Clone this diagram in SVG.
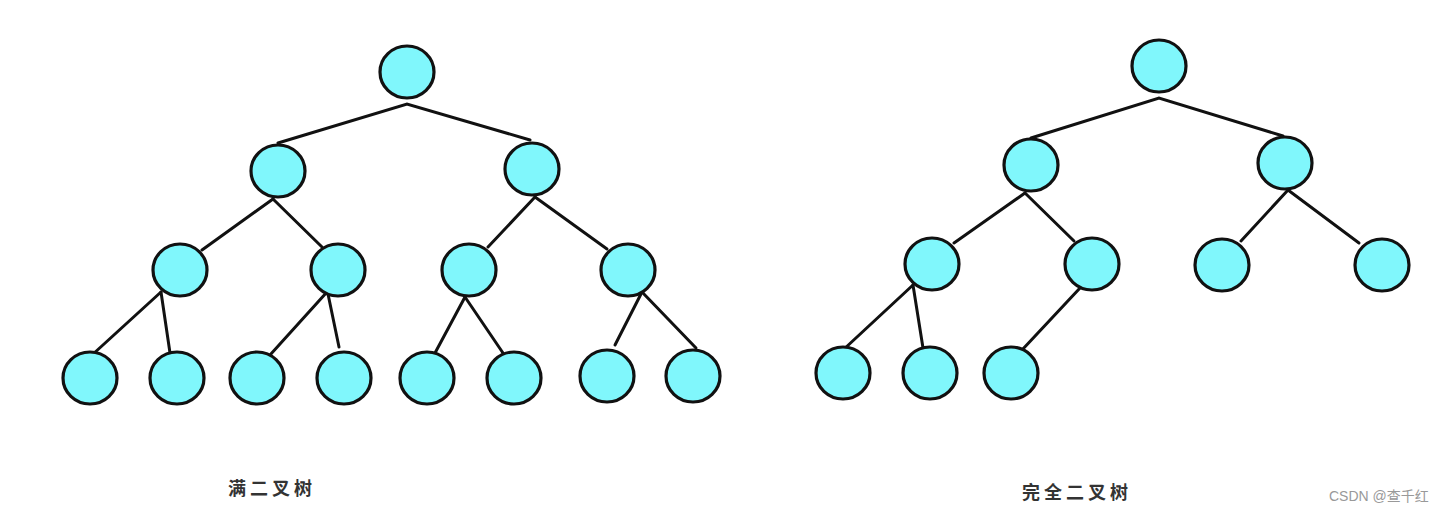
<svg xmlns="http://www.w3.org/2000/svg" width="1444" height="513" viewBox="0 0 1444 513">
<style>
.n{fill:#80f7fc;stroke:#111;stroke-width:3.2}
.e{stroke:#111;stroke-width:3;stroke-linecap:round;fill:none}
.lbl{font-family:"Noto Sans CJK SC",sans-serif;font-size:18px;font-weight:bold;fill:#333;letter-spacing:4px}
.wm{font-family:"Liberation Sans","Noto Sans CJK SC",sans-serif;font-size:14px;fill:#999}
</style>
<rect width="1444" height="513" fill="#fff"/>
<g id="connectors">
<polyline class="e" points="278,143 407,104 530,140"/>
<line class="e" x1="273" y1="199" x2="202" y2="250"/>
<line class="e" x1="273" y1="199" x2="322" y2="247"/>
<line class="e" x1="535" y1="197" x2="488" y2="247"/>
<line class="e" x1="535" y1="197" x2="607" y2="249"/>
<line class="e" x1="161" y1="292" x2="92" y2="355"/>
<line class="e" x1="161" y1="292" x2="170" y2="353"/>
<line class="e" x1="327" y1="292" x2="270" y2="355"/>
<line class="e" x1="328" y1="294" x2="339" y2="347"/>
<line class="e" x1="465" y1="297" x2="435" y2="353"/>
<line class="e" x1="465" y1="297" x2="503" y2="353"/>
<line class="e" x1="642" y1="292" x2="615" y2="345"/>
<line class="e" x1="642" y1="292" x2="696" y2="348"/>
<polyline class="e" points="1031,138 1159,98 1283,136"/>
<line class="e" x1="1025" y1="193" x2="954" y2="243"/>
<line class="e" x1="1025" y1="193" x2="1074" y2="241"/>
<line class="e" x1="1288" y1="190" x2="1241" y2="241"/>
<line class="e" x1="1288" y1="190" x2="1359" y2="243"/>
<line class="e" x1="913" y1="285" x2="843" y2="350"/>
<line class="e" x1="913" y1="285" x2="923" y2="348"/>
<line class="e" x1="1080" y1="288" x2="1022" y2="350"/>
</g>
<g id="full-tree">
<g id="f1"><ellipse class="n" cx="407" cy="72" rx="27" ry="26"/></g>
<g id="f2"><ellipse class="n" cx="278" cy="171" rx="27" ry="26"/></g>
<g id="f3"><ellipse class="n" cx="532" cy="169" rx="27" ry="26"/></g>
<g id="f4"><ellipse class="n" cx="180" cy="270" rx="27" ry="26"/></g>
<g id="f5"><ellipse class="n" cx="338" cy="270" rx="27" ry="26"/></g>
<g id="f6"><ellipse class="n" cx="469" cy="270" rx="27" ry="26"/></g>
<g id="f7"><ellipse class="n" cx="628" cy="270" rx="27" ry="26"/></g>
<g id="f8"><ellipse class="n" cx="90" cy="378" rx="27" ry="26"/></g>
<g id="f9"><ellipse class="n" cx="177" cy="378" rx="27" ry="26"/></g>
<g id="f10"><ellipse class="n" cx="257" cy="378" rx="27" ry="26"/></g>
<g id="f11"><ellipse class="n" cx="344" cy="378" rx="27" ry="26"/></g>
<g id="f12"><ellipse class="n" cx="427" cy="378" rx="27" ry="26"/></g>
<g id="f13"><ellipse class="n" cx="514" cy="378" rx="27" ry="26"/></g>
<g id="f14"><ellipse class="n" cx="607" cy="376" rx="27" ry="26"/></g>
<g id="f15"><ellipse class="n" cx="693" cy="376" rx="27" ry="26"/></g>
</g>
<g id="complete-tree">
<g id="c1"><ellipse class="n" cx="1159" cy="66" rx="27" ry="26"/></g>
<g id="c2"><ellipse class="n" cx="1031" cy="165" rx="27" ry="26"/></g>
<g id="c3"><ellipse class="n" cx="1285" cy="163" rx="27" ry="26"/></g>
<g id="c4"><ellipse class="n" cx="932" cy="264" rx="27" ry="26"/></g>
<g id="c5"><ellipse class="n" cx="1092" cy="264" rx="27" ry="26"/></g>
<g id="c6"><ellipse class="n" cx="1222" cy="265" rx="27" ry="26"/></g>
<g id="c7"><ellipse class="n" cx="1382" cy="265" rx="27" ry="26"/></g>
<g id="c8"><ellipse class="n" cx="843" cy="373" rx="27" ry="26"/></g>
<g id="c9"><ellipse class="n" cx="930" cy="373" rx="27" ry="26"/></g>
<g id="c10"><ellipse class="n" cx="1011" cy="373" rx="27" ry="26"/></g>
</g>
<g id="labels">
<text class="lbl" x="228" y="495">满二叉树</text>
<text class="lbl" x="1022" y="499">完全二叉树</text>
<text class="wm" x="1329" y="501">CSDN @查千红</text>
</g>
</svg>
